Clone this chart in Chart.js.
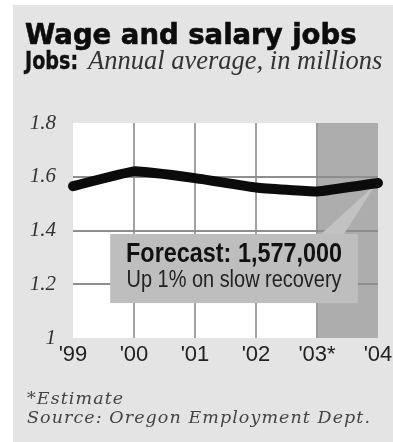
<!DOCTYPE html>
<html>
<head>
<meta charset="utf-8">
<title>Wage and salary jobs</title>
<script src="https://cdn.jsdelivr.net/npm/chart.js@4.4.1/dist/chart.umd.min.js"></script>
<style>
  html, body { margin: 0; padding: 0; background: #ffffff; }
  #wrap { position: relative; width: 393px; height: 442px; overflow: hidden; }
  #card { position: absolute; left: 13px; top: 5px; width: 380px; height: 437px; background: #e4e4e4; }
  #chart { position: absolute; left: 0; top: 0; }
  .t { position: absolute; white-space: nowrap; line-height: 1; }
  #title { left: 25px; top: 18px; font: bold 27.5px "DejaVu Sans", sans-serif; color: #0c0c0c;
           -webkit-text-stroke: 0.6px #0c0c0c; }
  #jobs { left: 25px; top: 47px; font: bold 24px "DejaVu Sans", sans-serif; color: #111;
          -webkit-text-stroke: 0.4px #111; transform: scaleX(0.8); transform-origin: 0 0; }
  #sub { left: 88px; top: 45px; font: italic 26.5px "Liberation Serif", serif; color: #333; }
  #note, #src { left: 27px; font: italic 17.5px "DejaVu Serif", serif; color: #444; }
  #note { top: 388px; }
  #src { top: 407px; }
</style>
</head>
<body>
<div id="wrap">
  <div id="card"></div>
  <canvas id="chart" width="393" height="442"></canvas>
  <div class="t" id="title">Wage and salary jobs</div>
  <div class="t" id="jobs">Jobs:</div>
  <div class="t" id="sub">Annual average, in millions</div>
  <div class="t" id="note">*Estimate</div>
  <div class="t" id="src">Source: Oregon Employment Dept.</div>
</div>
<script>
// Years on the x axis; '03 is an estimate and '04 the forecast
const years = ["'99", "'00", "'01", "'02", "'03*", "'04"];
// Wage and salary jobs, annual average in millions
const jobsMillions = [1.565, 1.62, 1.595, 1.56, 1.545, 1.577];
// Y axis ticks and their printed labels
const yTicks = [1, 1.2, 1.4, 1.6, 1.8];
const yTickLabels = ['1', '1.2', '1.4', '1.6', '1.8'];
// Index where the estimate/forecast band starts
const estimateStart = 4;
const forecastSubline = 'Up 1% on slow recovery';

const lastIdx = jobsMillions.length - 1;
const forecastLine = 'Forecast: ' + Math.round(jobsMillions[lastIdx] * 1e6).toLocaleString('en-US');

// Spread the source line out to its column width; the note uses the same tracking
(function trackFooter() {
  const src = document.getElementById('src');
  const note = document.getElementById('note');
  const target = 343;
  const n = src.textContent.length;
  const w = src.getBoundingClientRect().width;
  const ls = Math.max(0, (target - w) / (n - 1));
  src.style.letterSpacing = ls + 'px';
  note.style.letterSpacing = ls + 'px';
})();

// Callout geometry, in axis units (category index / millions)
const callout = { x0: 0.61, x1: 4.67, yTop: 1.387, yBottom: 1.13, wedgeX0: 4.05, wedgeX1: 4.43 };

function fitText(ctx, text, cx, baseline, font, color, maxWidth) {
  ctx.save();
  ctx.font = font;
  ctx.fillStyle = color;
  ctx.textAlign = 'center';
  ctx.textBaseline = 'alphabetic';
  const w = ctx.measureText(text).width;
  const s = Math.min(1, maxWidth / w);
  ctx.translate(cx, baseline);
  ctx.scale(s, 1);
  ctx.fillText(text, 0, 0);
  ctx.restore();
}

const panelPlugin = {
  id: 'panel',
  beforeDraw(chart) {
    const { ctx, chartArea: a, scales: { x } } = chart;
    ctx.save();
    ctx.fillStyle = '#ffffff';
    ctx.fillRect(a.left, a.top, a.right - a.left, a.bottom - a.top);
    const sx0 = x.getPixelForValue(estimateStart);
    const sx1 = x.getPixelForValue(lastIdx);
    ctx.fillStyle = '#adadad';
    ctx.fillRect(sx0, a.top, sx1 - sx0, a.bottom - a.top);
    ctx.fillStyle = '#999999';
    ctx.fillRect(sx0 - 1, a.top, 2, a.bottom - a.top);
    ctx.restore();
  },
  beforeDatasetsDraw(chart) {
    const { ctx, scales: { x, y } } = chart;
    const bx0 = x.getPixelForValue(callout.x0);
    const bx1 = x.getPixelForValue(callout.x1);
    const by0 = y.getPixelForValue(callout.yTop);
    const by1 = y.getPixelForValue(callout.yBottom);
    const tipX = x.getPixelForValue(lastIdx);
    const tipY = y.getPixelForValue(jobsMillions[lastIdx]);
    ctx.save();
    ctx.fillStyle = '#c2c2c2';
    ctx.beginPath();
    ctx.moveTo(x.getPixelForValue(callout.wedgeX0), by0 + 1);
    ctx.lineTo(tipX - 2, tipY + 1);
    ctx.lineTo(x.getPixelForValue(callout.wedgeX1), by0 + 1);
    ctx.closePath();
    ctx.fill();
    ctx.fillStyle = '#bebebe';
    ctx.fillRect(bx0, by0, bx1 - bx0, by1 - by0);
    ctx.restore();
    const cx = (bx0 + bx1) / 2;
    fitText(ctx, forecastLine, cx, by0 + 28, 'bold 28px "Liberation Sans Narrow", "Liberation Sans", sans-serif', '#111', 216);
    fitText(ctx, forecastSubline, cx, by0 + 53, '23px "Liberation Sans Narrow", "Liberation Sans", sans-serif', '#222', 215);
  }
};

new Chart(document.getElementById('chart'), {
  type: 'line',
  data: {
    labels: years,
    datasets: [{
      data: jobsMillions,
      borderColor: '#0b0b0b',
      borderWidth: 10,
      borderCapStyle: 'round',
      borderJoinStyle: 'round',
      pointRadius: 0,
      tension: 0.1,
      fill: false,
      clip: false
    }]
  },
  options: {
    responsive: false,
    animation: false,
    events: [],
    layout: { padding: { left: 0, top: 123, right: 15, bottom: 74 } },
    plugins: { legend: { display: false }, tooltip: { enabled: false } },
    scales: {
      x: {
        type: 'category',
        offset: false,
        border: { display: false },
        grid: {
          drawTicks: false,
          lineWidth: 2,
          color: c => (c.index > 0 && c.index < estimateStart) ? '#a2a2a2' : 'rgba(0,0,0,0)'
        },
        ticks: {
          padding: 4,
          maxRotation: 0,
          autoSkip: false,
          color: '#222',
          font: { family: '"Liberation Sans", sans-serif', size: 22 }
        },
        afterFit: s => { s.height = 30; s.paddingLeft = 0; s.paddingRight = 0; }
      },
      y: {
        min: 1,
        max: 1.8,
        border: { display: false },
        grid: {
          drawTicks: false,
          lineWidth: 2,
          color: c => (c.tick && c.tick.value > 1 && c.tick.value < 1.8) ? '#8e8e8e' : 'rgba(0,0,0,0)'
        },
        afterBuildTicks: s => { s.ticks = yTicks.map(v => ({ value: v })); },
        ticks: {
          padding: 17,
          color: '#333',
          font: { family: '"Liberation Serif", serif', size: 21, style: 'italic' },
          callback: (v, i) => yTickLabels[i]
        },
        afterFit: s => { s.width = 73; }
      }
    }
  },
  plugins: [panelPlugin]
});
</script>
</body>
</html>
